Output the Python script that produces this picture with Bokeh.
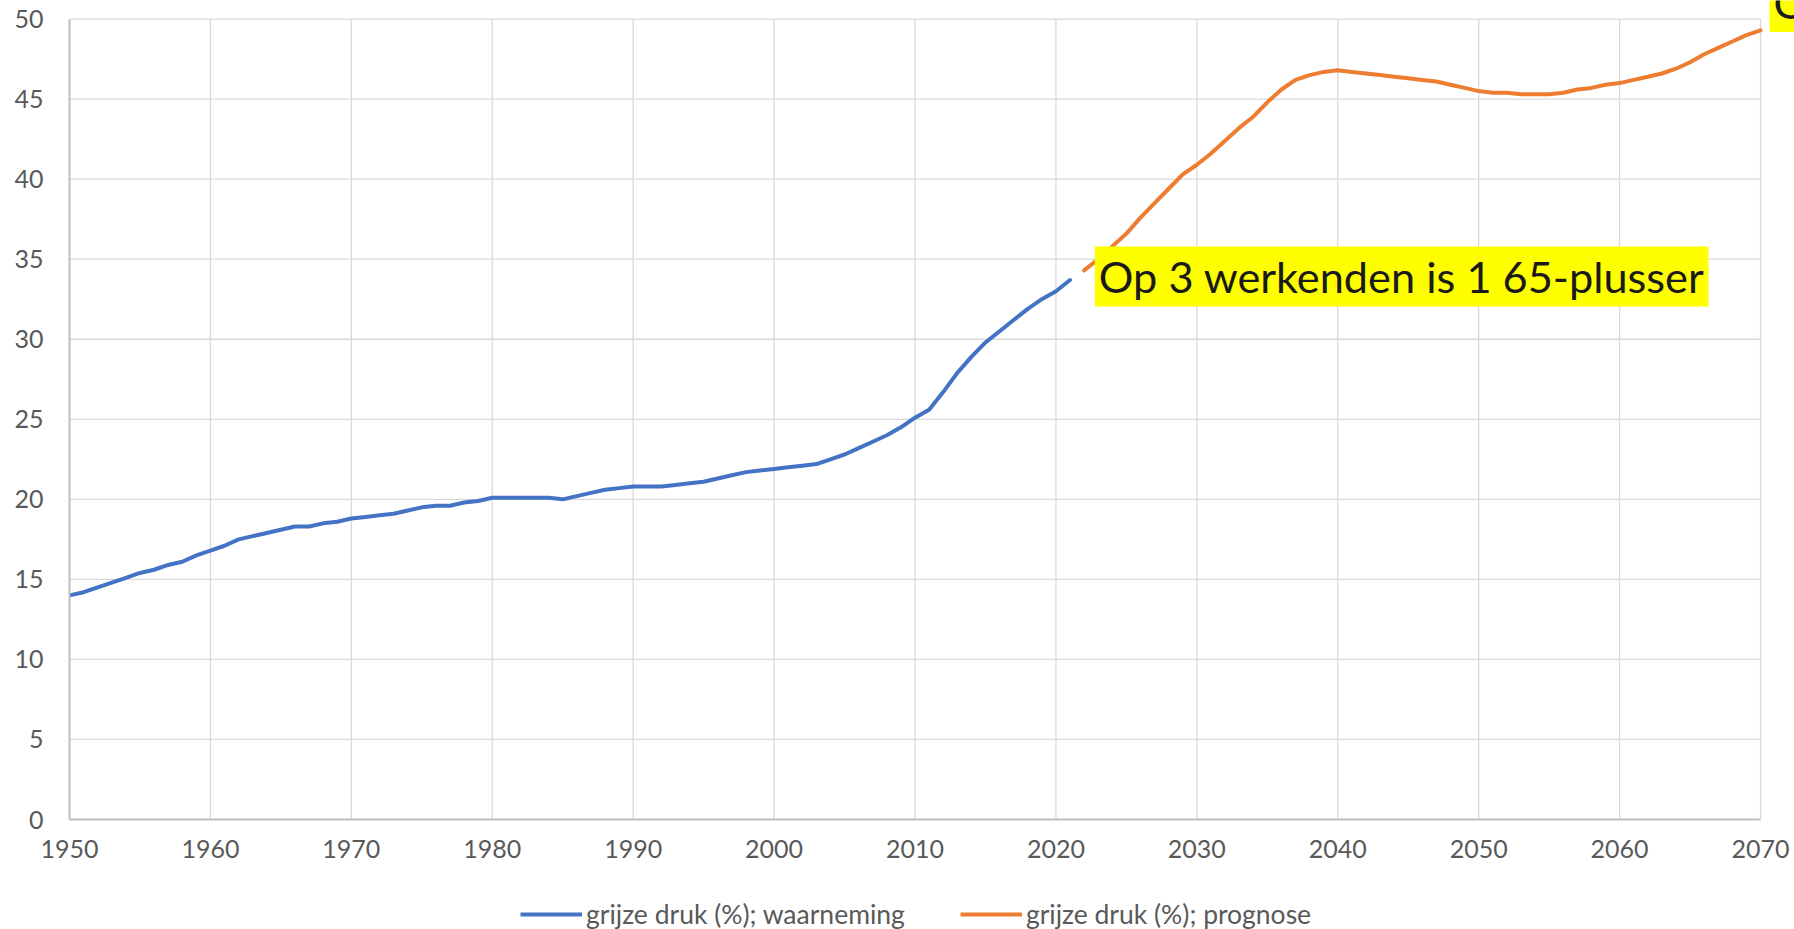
from bokeh.plotting import figure
from bokeh.layouts import column
from bokeh.models import Legend, LegendItem, Label, Range1d, FixedTicker
from bokeh.embed import file_html
from bokeh.resources import INLINE

# observed (waarneming) 1950-2021
obs_years = list(range(1950, 2022))
obs_values = [
    14.0, 14.2, 14.5, 14.8, 15.1, 15.4, 15.6, 15.9, 16.1, 16.5,  # 1950-1959
    16.8, 17.1, 17.5, 17.7, 17.9, 18.1, 18.3, 18.3, 18.5, 18.6,  # 1960-1969
    18.8, 18.9, 19.0, 19.1, 19.3, 19.5, 19.6, 19.6, 19.8, 19.9,  # 1970-1979
    20.1, 20.1, 20.1, 20.1, 20.1, 20.0, 20.2, 20.4, 20.6, 20.7,  # 1980-1989
    20.8, 20.8, 20.8, 20.9, 21.0, 21.1, 21.3, 21.5, 21.7, 21.8,  # 1990-1999
    21.9, 22.0, 22.1, 22.2, 22.5, 22.8, 23.2, 23.6, 24.0, 24.5,  # 2000-2009
    25.1, 25.6, 26.7, 27.9, 28.9, 29.8, 30.5, 31.2, 31.9, 32.5,  # 2010-2019
    33.0, 33.7,                                                  # 2020-2021
]

# forecast (prognose) 2022-2070
fc_years = list(range(2022, 2071))
fc_values = [
    34.3, 35.0, 35.8, 36.6, 37.6, 38.5, 39.4, 40.3,              # 2022-2029
    40.9, 41.6, 42.4, 43.2, 43.9, 44.8, 45.6, 46.2, 46.5, 46.7,  # 2030-2039
    46.8, 46.7, 46.6, 46.5, 46.4, 46.3, 46.2, 46.1, 45.9, 45.7,  # 2040-2049
    45.5, 45.4, 45.4, 45.3, 45.3, 45.3, 45.4, 45.6, 45.7, 45.9,  # 2050-2059
    46.0, 46.2, 46.4, 46.6, 46.9, 47.3, 47.8, 48.2, 48.6, 49.0,  # 2060-2069
    49.3,                                                        # 2070
]

x_ticks = list(range(1950, 2071, 10))
y_ticks = list(range(0, 51, 5))
series_names = ["grijze druk (%); waarneming", "grijze druk (%); prognose"]
series_colors = ["#4472C4", "#ED7D31"]
annotation_main = "Op 3 werkenden is 1 65-plusser"
annotation_top = "Op 2 werkenden is 1 65-plusser"

FONT = "Lato"
X0, X1 = x_ticks[0], x_ticks[-1]
Y0, Y1 = y_ticks[0], y_ticks[-1]
LINE_W = 4

# ---- main chart -------------------------------------------------------
# The frame reaches the right and top edges of the canvas so that the
# clipped label in the top-right corner shows; data area is 1950-2070, 0-50.
p = figure(
    frame_width=1725, frame_height=819,
    output_backend="svg", toolbar_location=None,
    x_range=Range1d(X0, 2072.41), y_range=Range1d(Y0, 51.16),
    min_border_left=69, min_border_right=0,
    min_border_top=0, min_border_bottom=60,
)
p.outline_line_color = None
p.background_fill_color = "white"
p.border_fill_color = "white"
p.xgrid.grid_line_color = None
p.ygrid.grid_line_color = None

GRID = "#D9D9D9"
p.segment(x0=x_ticks, y0=[Y0] * len(x_ticks), x1=x_ticks, y1=[Y1] * len(x_ticks),
          line_color=GRID, line_width=1.3)
p.segment(x0=[X0] * len(y_ticks), y0=y_ticks, x1=[X1] * len(y_ticks), y1=y_ticks,
          line_color=GRID, line_width=1.3)

p.xaxis.ticker = FixedTicker(ticks=x_ticks)
p.yaxis.ticker = FixedTicker(ticks=y_ticks)
p.xaxis.bounds = (X0, X1)
p.yaxis.bounds = (Y0, Y1)
for ax in (p.xaxis, p.yaxis):
    ax.major_tick_line_color = None
    ax.minor_tick_line_color = None
    ax.major_tick_out = 0
    ax.major_tick_in = 0
    ax.minor_tick_out = 0
    ax.axis_line_color = "#BFBFBF"
    ax.axis_line_width = 2
    ax.major_label_text_color = "#595959"
    ax.major_label_text_font = FONT
    ax.major_label_text_font_size = "25px"
p.xaxis.major_label_standoff = 20
p.yaxis.major_label_standoff = 26

p.line(obs_years, obs_values, line_color=series_colors[0], line_width=LINE_W,
       line_join="round", line_cap="round")
p.line(fc_years, fc_values, line_color=series_colors[1], line_width=LINE_W,
       line_join="round", line_cap="round")

lab1 = Label(x=2022.76, y=33.92, text=annotation_main,
             text_font=FONT, text_font_size="43.3px", text_color="#1a1a1a",
             text_baseline="middle", text_align="left",
             background_fill_color="#FFFF00", padding=4)
p.add_layout(lab1)

lab2 = Label(x=2070.64, y=51.06, text=annotation_top,
             text_font=FONT, text_font_size="43.3px", text_color="#1a1a1a",
             text_baseline="middle", text_align="left",
             background_fill_color="#FFFF00", padding=4)
p.add_layout(lab2)

# ---- legend strip under the chart ---------------------------------------
# Same series drawn again in a thin strip whose y range lies below the data,
# so only the legend (which needs renderers of its own plot) is visible.
leg = figure(
    frame_width=1794, frame_height=50,
    output_backend="svg", toolbar_location=None,
    x_range=Range1d(X0, X1), y_range=Range1d(-200, -100),
    x_axis_type=None, y_axis_type=None,
    min_border_left=0, min_border_right=0, min_border_top=0, min_border_bottom=0,
)
leg.outline_line_color = None
leg.grid.visible = False
leg.background_fill_color = "white"
leg.border_fill_color = "white"
l_obs = leg.line(obs_years, obs_values, line_color=series_colors[0], line_width=LINE_W)
l_fc = leg.line(fc_years, fc_values, line_color=series_colors[1], line_width=LINE_W)

legend = Legend(
    items=[LegendItem(label=series_names[0], renderers=[l_obs]),
           LegendItem(label=series_names[1], renderers=[l_fc])],
    location=(520, -1), orientation="horizontal",
    glyph_width=62, glyph_height=20, label_standoff=4, spacing=55,
    padding=0, margin=0,
    border_line_color=None, background_fill_alpha=0,
    label_text_font=FONT, label_text_font_size="26.5px", label_text_color="#595959",
)
leg.add_layout(legend, "center")

layout = column(p, leg, spacing=0)
open("out.html", "w").write(file_html(layout, INLINE))
